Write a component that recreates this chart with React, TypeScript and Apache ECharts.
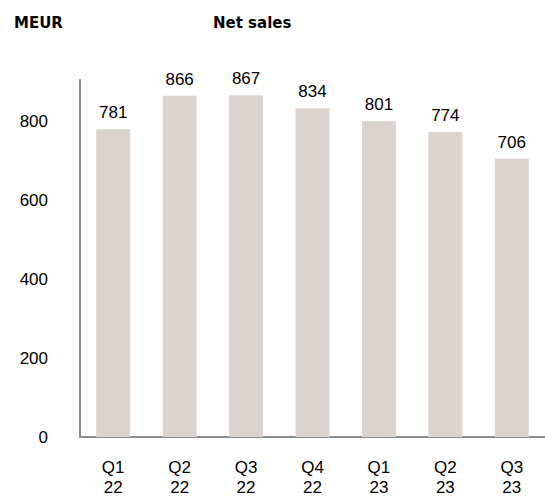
import React, { useEffect, useRef } from "react";
import * as echarts from "echarts";

const quarters = ["Q1\n22", "Q2\n22", "Q3\n22", "Q4\n22", "Q1\n23", "Q2\n23", "Q3\n23"];
const netSales = [781, 866, 867, 834, 801, 774, 706];
const yTicks = [0, 200, 400, 600, 800];

export default function App() {
  const ref = useRef<HTMLDivElement>(null);
  useEffect(() => {
    if (!ref.current) return;
    const chart = echarts.init(ref.current, null, { renderer: "svg" });
    chart.setOption({
      animation: false,
      backgroundColor: "#ffffff",
      graphic: [
        {
          type: "text",
          left: 14,
          top: 15,
          style: { text: "MEUR", fontFamily: "DejaVu Sans", fontWeight: "bold", fontSize: 15, fill: "#000" },
        },
        {
          type: "text",
          left: 213,
          top: 15,
          style: { text: "Net sales", fontFamily: "DejaVu Sans", fontWeight: "bold", fontSize: 15, fill: "#000" },
        },
      ],
      grid: { left: 80, top: 80, width: 480, height: 360, containLabel: false },
      xAxis: {
        type: "category",
        data: quarters,
        axisLine: { show: true, lineStyle: { color: "#8c8c8c", width: 2 } },
        axisTick: { show: false },
        axisLabel: {
          color: "#000",
          fontFamily: "Liberation Sans",
          fontSize: 17,
          lineHeight: 20,
          margin: 20,
        },
      },
      yAxis: {
        type: "value",
        min: 0,
        max: 906,
        interval: 200,
        splitLine: { show: false },
        axisTick: { show: false },
        axisLine: { show: true, lineStyle: { color: "#8c8c8c", width: 2 } },
        axisLabel: {
          color: "#000",
          fontFamily: "Liberation Sans",
          fontSize: 17,
          margin: 32,
          showMaxLabel: false,
          formatter: (v: number) => (yTicks.includes(v) ? String(v) : ""),
        },
      },
      series: [
        {
          type: "bar",
          data: netSales,
          barWidth: 34,
          itemStyle: { color: "#dcd3cf" },
          label: {
            show: true,
            position: "top",
            distance: 8,
            color: "#000",
            fontFamily: "Liberation Sans",
            fontSize: 17,
          },
        },
      ],
    });
    return () => chart.dispose();
  }, []);
  return <div ref={ref} style={{ position: "fixed", left: 0, top: 0, width: 545, height: 497 }} />;
}
